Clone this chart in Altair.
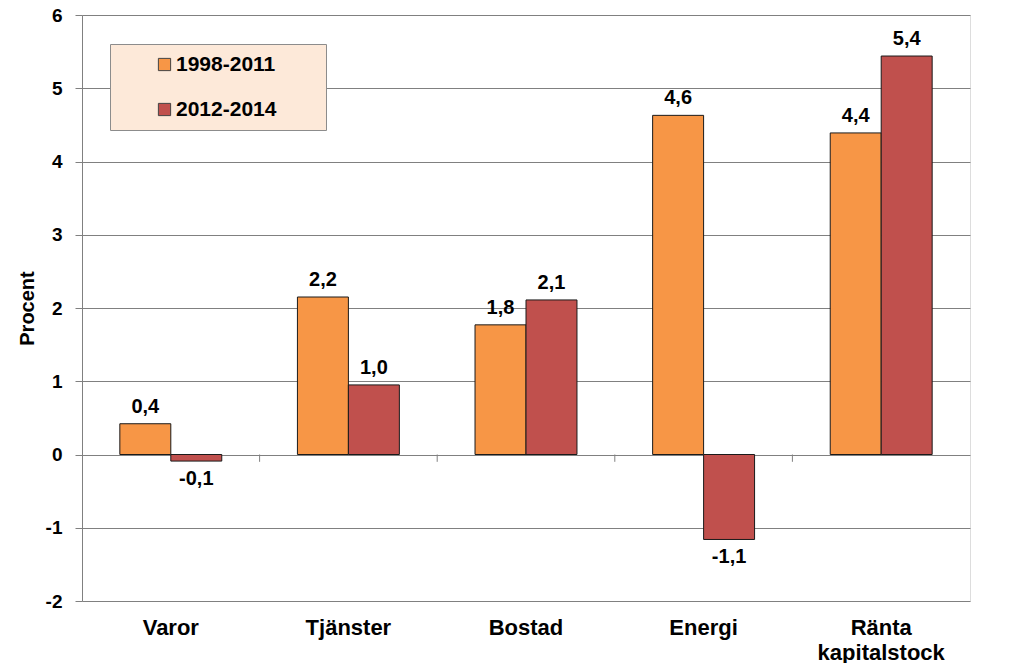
import altair as alt
import pandas as pd

categories = ["Varor", "Tjänster", "Bostad", "Energi", "Ränta kapitalstock"]
series_names = ["1998-2011", "2012-2014"]
values_1998_2011 = [0.42, 2.15, 1.77, 4.63, 4.39]
values_2012_2014 = [-0.09, 0.95, 2.11, -1.16, 5.44]
labels_1998_2011 = ["0,4", "2,2", "1,8", "4,6", "4,4"]
labels_2012_2014 = ["-0,1", "1,0", "2,1", "-1,1", "5,4"]
y_ticks = [-2, -1, 0, 1, 2, 3, 4, 5, 6]
colors = ["#F79646", "#C0504D"]

rows = []
for s, vals, labs in [(series_names[0], values_1998_2011, labels_1998_2011),
                      (series_names[1], values_2012_2014, labels_2012_2014)]:
    for c, v, l in zip(categories, vals, labs):
        rows.append({"kategori": c, "serie": s, "varde": v, "etikett": l})
df = pd.DataFrame(rows)

# small ticks on the zero line, at the left edge of each category slot (except the first)
boundaries = pd.DataFrame({"kategori": categories[1:]})

FONT = "Liberation Sans"
P_INNER = 0.426
P_OUTER = 0.213

x_enc = alt.X("kategori:N", sort=categories,
              scale=alt.Scale(paddingInner=P_INNER, paddingOuter=P_OUTER),
              axis=alt.Axis(title=None, ticks=False, domain=False,
                            labelFontSize=22, labelFontWeight="bold",
                            labelFont=FONT, labelColor="#000",
                            labelAngle=0, labelPadding=16,
                            labelLineHeight=25,
                            labelExpr="split(datum.label, ' ')"))
xoff = alt.XOffset("serie:N", sort=series_names)
y_scale = alt.Scale(domain=[-2, 6], nice=False)

bars = alt.Chart(df).mark_bar(stroke="#1a1a1a", strokeWidth=1).encode(
    x=x_enc,
    xOffset=xoff,
    y=alt.Y("varde:Q", scale=y_scale,
            axis=alt.Axis(title="Procent", values=y_ticks,
                          labelExpr="'' + datum.value",
                          grid=True, gridColor="#808080", gridWidth=1,
                          domain=True, domainColor="#808080",
                          tickColor="#808080", tickSize=7,
                          labelFontSize=19, labelFontWeight="bold",
                          labelFont=FONT, labelColor="#000", labelPadding=13,
                          titleFontSize=20, titleFontWeight="bold",
                          titleFont=FONT, titleColor="#000", titlePadding=8)),
    color=alt.Color("serie:N", sort=series_names,
                    scale=alt.Scale(domain=series_names, range=colors),
                    legend=alt.Legend(title="x", titleOrient="right",
                                      titleOpacity=0, titleFontSize=8,
                                      titlePadding=35,
                                      orient="none",
                                      legendX=28, legendY=29,
                                      fillColor="#FDE9D9", strokeColor="#8c8c8c",
                                      padding=10, rowPadding=23,
                                      symbolType="square", symbolSize=150,
                                      symbolStrokeColor="#444", symbolStrokeWidth=1,
                                      symbolOffset=34,
                                      labelFontSize=21, labelFontWeight="bold",
                                      labelFont=FONT, labelColor="#000",
                                      labelOffset=1)),
)

pos_text = alt.Chart(df).transform_filter("datum.varde >= 0").mark_text(
    baseline="bottom", dy=-7, fontSize=20, fontWeight="bold", font=FONT, color="#000"
).encode(x=alt.X("kategori:N", sort=categories), xOffset=xoff,
         y=alt.Y("varde:Q", scale=y_scale), text="etikett:N")

neg_text = alt.Chart(df).transform_filter("datum.varde < 0").mark_text(
    baseline="top", dy=8, fontSize=20, fontWeight="bold", font=FONT, color="#000"
).encode(x=alt.X("kategori:N", sort=categories), xOffset=xoff,
         y=alt.Y("varde:Q", scale=y_scale), text="etikett:N")

# half the inner padding of one slot, in pixels: 888/5 * 0.213
zero_ticks = alt.Chart(boundaries).mark_rule(
    color="#808080", strokeWidth=1, xOffset=-(888 / 5) * P_OUTER
).encode(
    x=alt.X("kategori:N", sort=categories, bandPosition=0),
    y=alt.datum(0),
    y2=alt.datum(-0.1),
)

chart = alt.layer(bars, pos_text, neg_text, zero_ticks).properties(
    width=888, height=586,
    autosize=alt.AutoSizeParams(type="none"),
    padding={"left": 74, "top": 7, "right": 40, "bottom": 62},
).configure_view(stroke="#808080", strokeWidth=1).configure(background="white")

chart.save("out.html", embed_options={"renderer": "svg", "actions": False})
